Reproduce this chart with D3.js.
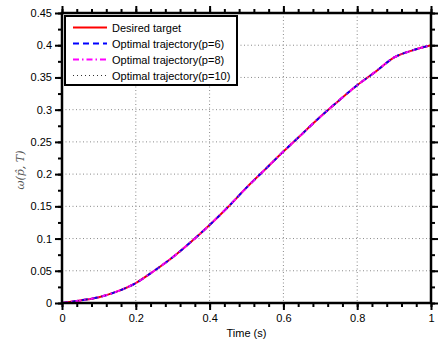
<!DOCTYPE html>
<html>
<head>
<meta charset="utf-8">
<script src="https://cdn.jsdelivr.net/npm/d3@7"></script>
<style>
  body { margin: 0; background: #fff; }
  text { font-family: "Liberation Sans", Arial, sans-serif; }
</style>
</head>
<body>
<div id="chart"></div>
<script>
// データ
const time = [0, 0.05, 0.1, 0.15, 0.2, 0.25, 0.3, 0.35, 0.4, 0.45, 0.5,
              0.55, 0.6, 0.65, 0.7, 0.75, 0.8, 0.85, 0.9, 0.95, 1];
const desired = [0, 0.004, 0.009, 0.018, 0.031, 0.05, 0.071, 0.095, 0.121, 0.149, 0.179,
                 0.207, 0.235, 0.262, 0.289, 0.314, 0.338, 0.359, 0.381, 0.392, 0.4];
const trajP6 = desired.slice();
const trajP8 = desired.slice();
const trajP10 = desired.slice();
const legendLabels = ["Desired target", "Optimal trajectory(p=6)", "Optimal trajectory(p=8)", "Optimal trajectory(p=10)"];
const xTicks = [0, 0.2, 0.4, 0.6, 0.8, 1];
const yTicks = [0, 0.05, 0.1, 0.15, 0.2, 0.25, 0.3, 0.35, 0.4, 0.45];

const width = 440, height = 345;
const margin = {top: 13, right: 9, bottom: 42, left: 62};
const w = width - margin.left - margin.right;
const h = height - margin.top - margin.bottom;

const svg = d3.select("#chart").append("svg")
    .attr("width", width)
    .attr("height", height);

const g = svg.append("g").attr("transform", `translate(${margin.left},${margin.top})`);

const x = d3.scaleLinear().domain([0, 1]).range([0, w]);
const y = d3.scaleLinear().domain([0, 0.45]).range([h, 0]);

// グリッド
g.selectAll("line.gx").data(xTicks.slice(1, -1)).enter().append("line")
    .attr("x1", d => x(d)).attr("x2", d => x(d))
    .attr("y1", 0).attr("y2", h)
    .attr("stroke", "#8a8a8a").attr("stroke-width", 1).attr("stroke-dasharray", "1,2.5");
g.selectAll("line.gy").data(yTicks.slice(1, -1)).enter().append("line")
    .attr("y1", d => y(d)).attr("y2", d => y(d))
    .attr("x1", 0).attr("x2", w)
    .attr("stroke", "#8a8a8a").attr("stroke-width", 1).attr("stroke-dasharray", "1,2.5");

// 曲線
const series = [
    {values: desired, color: "#ff0000", dash: null, width: 2},
    {values: trajP6, color: "#0000ff", dash: "6,4", width: 2},
    {values: trajP8, color: "#ff00ff", dash: "6,3,1.5,3", width: 2},
    {values: trajP10, color: "#333333", dash: "1,3", width: 1}
];
const line = d3.line().x((d, i) => x(time[i])).y(d => y(d)).curve(d3.curveMonotoneX);
series.forEach(s => {
    g.append("path")
        .datum(s.values)
        .attr("d", line)
        .attr("fill", "none")
        .attr("stroke", s.color)
        .attr("stroke-width", s.width)
        .attr("stroke-dasharray", s.dash);
});

// 軸
const xMinor = d3.range(0, 1.0001, 0.04);
const yMinor = d3.range(0, 0.4501, 0.025);
function styleAxis(sel) {
    sel.select(".domain").remove();
    sel.selectAll("line").attr("stroke", "#000").attr("stroke-width", 2);
    sel.selectAll("text").attr("font-size", "11px").attr("fill", "#000");
}
g.append("g").attr("transform", `translate(0,${h})`)
    .call(d3.axisBottom(x).tickValues(xMinor).tickFormat("").tickSize(4).tickSizeOuter(0)).call(styleAxis);
g.append("g")
    .call(d3.axisTop(x).tickValues(xMinor).tickFormat("").tickSize(4).tickSizeOuter(0)).call(styleAxis);
g.append("g")
    .call(d3.axisLeft(y).tickValues(yMinor).tickFormat("").tickSize(4).tickSizeOuter(0)).call(styleAxis);
g.append("g").attr("transform", `translate(${w},0)`)
    .call(d3.axisRight(y).tickValues(yMinor).tickFormat("").tickSize(4).tickSizeOuter(0)).call(styleAxis);

g.append("g").attr("transform", `translate(0,${h})`)
    .call(d3.axisBottom(x).tickValues(xTicks).tickFormat(d3.format("")).tickSize(7).tickPadding(4).tickSizeOuter(0))
    .call(styleAxis);
g.append("g")
    .call(d3.axisTop(x).tickValues(xTicks).tickFormat("").tickSize(7).tickSizeOuter(0)).call(styleAxis);
g.append("g")
    .call(d3.axisLeft(y).tickValues(yTicks).tickFormat(d3.format("")).tickSize(7).tickPadding(3).tickSizeOuter(0))
    .call(styleAxis);
g.append("g").attr("transform", `translate(${w},0)`)
    .call(d3.axisRight(y).tickValues(yTicks).tickFormat("").tickSize(7).tickSizeOuter(0)).call(styleAxis);

g.append("rect")
    .attr("width", w).attr("height", h)
    .attr("fill", "none").attr("stroke", "#000").attr("stroke-width", 2.5);

// ラベル
svg.append("text")
    .attr("x", margin.left + w / 2).attr("y", 337)
    .attr("text-anchor", "middle").attr("font-size", "11px")
    .text("Time (s)");

svg.append("text")
    .attr("transform", `translate(24,${margin.top + h / 2 + 12}) rotate(-90)`)
    .attr("text-anchor", "middle")
    .attr("font-size", "11px")
    .attr("fill", "#555")
    .style("font-family", "'DejaVu Serif', serif")
    .style("font-style", "italic")
    .text("ω(p̂, T)");

// 凡例
const lg = svg.append("g").attr("transform", "translate(65,16)");
lg.append("rect")
    .attr("width", 172).attr("height", 69)
    .attr("fill", "#fff").attr("stroke", "#000").attr("stroke-width", 2);
legendLabels.forEach((label, i) => {
    const yy = 11.5 + i * 16;
    lg.append("line")
        .attr("x1", 8).attr("x2", 42).attr("y1", yy).attr("y2", yy)
        .attr("stroke", series[i].color)
        .attr("stroke-width", series[i].width)
        .attr("stroke-dasharray", series[i].dash);
    lg.append("text")
        .attr("x", 47).attr("y", yy + 4)
        .attr("font-size", "11px")
        .text(label);
});
</script>
</body>
</html>
